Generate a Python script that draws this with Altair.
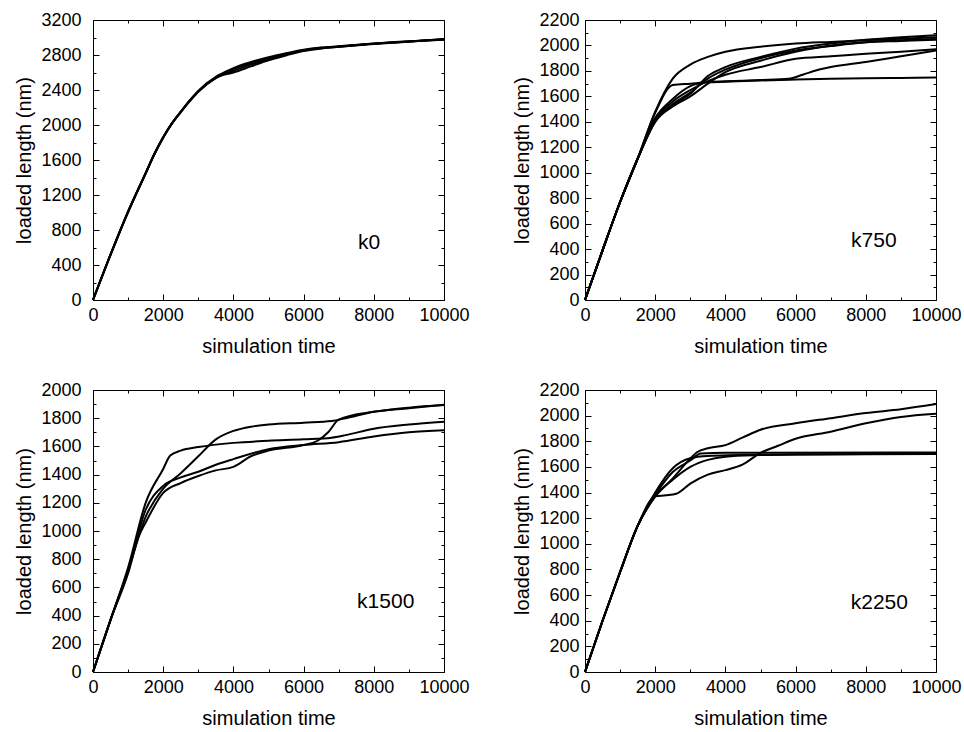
import altair as alt
import pandas as pd

FONT = "Liberation Sans"
W, H_TOP, H_BOT = 351, 280, 282

# ---------------- data: k0 ----------------
k0_t = [0, 500, 1000, 1500, 1750, 2000, 2250, 2500, 2750, 3000, 3500, 4000, 4500, 5000, 5500, 6000, 6500, 7000, 8000, 9000, 10000]
k0_r1 = [0, 520, 1010, 1450, 1670, 1860, 2020, 2150, 2275, 2385, 2545, 2650, 2720, 2775, 2820, 2860, 2885, 2900, 2930, 2955, 2980]
k0_r2 = [0, 515, 1005, 1445, 1665, 1855, 2015, 2145, 2270, 2380, 2535, 2620, 2690, 2755, 2805, 2850, 2878, 2895, 2928, 2953, 2978]
k0_r3 = [0, 518, 1008, 1448, 1668, 1858, 2018, 2150, 2278, 2390, 2550, 2640, 2705, 2765, 2812, 2855, 2882, 2898, 2932, 2957, 2975]
k0_r4 = [0, 522, 1012, 1452, 1672, 1862, 2022, 2152, 2272, 2383, 2540, 2600, 2670, 2740, 2795, 2845, 2875, 2893, 2926, 2952, 2982]

# ---------------- data: k750 ----------------
k750_t = [0, 500, 1000, 1500, 2000, 2500, 3000, 3500, 4000, 5000, 6000, 7000, 8000, 9000, 10000]
k750_r1 = [0, 390, 770, 1110, 1480, 1740, 1850, 1910, 1950, 1990, 2015, 2028, 2040, 2052, 2065]
k750_r2 = [0, 390, 770, 1110, 1470, 1690, 1700, 1710, 1715, 1725, 1732, 1738, 1742, 1745, 1748]
k750_r3_t = [0, 500, 1000, 1500, 2000, 2500, 3000, 3500, 4000, 5000, 5800, 6200, 6600, 7000, 8000, 9000, 10000]
k750_r3 = [0, 390, 770, 1110, 1430, 1580, 1680, 1712, 1718, 1728, 1738, 1770, 1805, 1830, 1870, 1915, 1960]
k750_r4 = [0, 390, 770, 1110, 1420, 1560, 1650, 1720, 1770, 1830, 1895, 1915, 1935, 1950, 1970]
k750_r5 = [0, 390, 770, 1110, 1410, 1540, 1630, 1740, 1810, 1900, 1960, 1995, 2025, 2040, 2050]
k750_r6 = [0, 390, 770, 1110, 1400, 1530, 1620, 1760, 1830, 1910, 1975, 2015, 2045, 2065, 2080]
k750_r7 = [0, 390, 770, 1110, 1400, 1520, 1600, 1700, 1790, 1880, 1950, 2000, 2025, 2035, 2045]

# ---------------- data: k1500 ----------------
k1500_a_t = [0, 500, 1000, 1500, 2000, 2200, 2500, 3000, 4000, 5000, 6000, 6800, 7200, 8000, 9000, 10000]
k1500_a = [0, 370, 740, 1200, 1440, 1535, 1570, 1595, 1625, 1640, 1650, 1662, 1680, 1725, 1755, 1775]
k1500_b_t = [0, 500, 1000, 1500, 2000, 2500, 3000, 3500, 4000, 4500, 5000, 6000, 6800, 7200, 8000, 9000, 10000]
k1500_b = [0, 370, 720, 1100, 1300, 1410, 1530, 1650, 1710, 1740, 1755, 1768, 1780, 1800, 1845, 1870, 1895]
k1500_c_t = [0, 500, 1000, 1300, 1500, 2000, 2500, 3000, 3500, 4000, 4500, 5000, 6000, 6400, 6700, 7000, 8000, 9000, 10000]
k1500_c = [0, 370, 700, 960, 1060, 1270, 1340, 1390, 1430, 1455, 1530, 1570, 1610, 1640, 1700, 1790, 1845, 1875, 1893]
k1500_d_t = [0, 500, 1000, 1500, 2000, 2500, 3000, 3500, 4000, 5000, 6000, 7000, 8000, 9000, 10000]
k1500_d = [0, 370, 720, 1150, 1320, 1380, 1420, 1470, 1510, 1580, 1610, 1630, 1670, 1700, 1715]

# ---------------- data: k2250 ----------------
k2250_a_t = [0, 500, 1000, 1500, 2000, 2500, 3000, 3200, 3500, 4000, 4500, 5000, 6000, 7000, 8000, 9000, 10000]
k2250_a = [0, 400, 780, 1140, 1370, 1510, 1665, 1716, 1745, 1770, 1830, 1890, 1940, 1980, 2020, 2050, 2090]
k2250_b_t = [0, 500, 1000, 1500, 2000, 2300, 2600, 3000, 3500, 4000, 4500, 5000, 5500, 6000, 7000, 8000, 9000, 10000]
k2250_b = [0, 400, 780, 1140, 1370, 1378, 1390, 1470, 1540, 1575, 1620, 1710, 1765, 1820, 1875, 1940, 1990, 2015]
k2250_c_t = [0, 500, 1000, 1500, 2000, 2500, 3000, 3500, 5000, 10000]
k2250_c = [0, 400, 780, 1140, 1400, 1590, 1668, 1685, 1695, 1705]
k2250_d_t = [0, 500, 1000, 1500, 2000, 2500, 3000, 3500, 4000, 5000, 6000, 10000]
k2250_d = [0, 400, 780, 1140, 1370, 1500, 1600, 1655, 1680, 1692, 1697, 1700]
k2250_e_t = [0, 500, 1000, 1500, 2000, 2500, 3000, 3300, 4000, 10000]
k2250_e = [0, 400, 780, 1140, 1380, 1560, 1650, 1705, 1710, 1712]

panel_labels = ["k0", "k750", "k1500", "k2250"]
x_labels = [0, 2000, 4000, 6000, 8000, 10000]
x_minor = [1000, 3000, 5000, 7000, 9000]


def make_df(runs):
    rows = []
    for i, (ts, ys) in enumerate(runs):
        for t, y in zip(ts, ys):
            rows.append({"run": i, "t": t, "y": y})
    return pd.DataFrame(rows)


def tick_axis(orient, values, size):
    return alt.Axis(orient=orient, values=values, tickSize={"expr": str(-size)}, ticks=True,
                    labels=False, domain=False, grid=False, title=None)


def panel(runs, ymax, ystep, yminor, label, lx, ly, lab_pad, h):
    df = make_df(runs)
    xsc = alt.Scale(domain=[0, 10000], nice=False, zero=False)
    ysc = alt.Scale(domain=[0, ymax], nice=False)
    ymaj = list(range(0, ymax + 1, ystep))
    ymin = [v for v in range(0, ymax + 1, yminor) if v % ystep != 0]
    base = alt.Chart(df)
    main = base.mark_line(color="black", strokeWidth=2, interpolate="monotone").encode(
        x=alt.X("t:Q", scale=xsc, axis=alt.Axis(values=x_labels, format="d", title="simulation time",
                                                ticks=False, tickSize=0, domain=False, grid=False,
                                                labelFlush=False, labelPadding=6, titlePadding=12)),
        y=alt.Y("y:Q", scale=ysc, axis=alt.Axis(values=ymaj, format="d", title="loaded length (nm)",
                                                ticks=False, tickSize=0, domain=False, grid=False,
                                                labelFlush=False, labelPadding=lab_pad, titlePadding=6)),
        detail="run:N",
    )
    layers = [main]
    for xo, yo, xv, yv, sz in [("bottom", "left", x_labels, ymaj, 6),
                               ("bottom", "left", x_minor, ymin, 3),
                               ("top", "right", x_labels, ymaj, 6),
                               ("top", "right", x_minor, ymin, 3)]:
        layers.append(base.mark_line(opacity=0).encode(
            x=alt.X("t:Q", scale=xsc, axis=tick_axis(xo, xv, sz)),
            y=alt.Y("y:Q", scale=ysc, axis=tick_axis(yo, yv, sz)),
            detail="run:N",
        ))
    txt = alt.Chart(pd.DataFrame({"t": [lx], "y": [ly], "s": [label]})).mark_text(
        fontSize=21, font=FONT, color="black", align="center", baseline="middle"
    ).encode(
        x=alt.X("t:Q", scale=xsc, axis=None),
        y=alt.Y("y:Q", scale=ysc, axis=None),
        text="s:N",
    )
    layers.append(txt)
    return alt.layer(*layers).resolve_axis(x="independent", y="independent").properties(
        width=W, height=h)


p0 = panel([(k0_t, k0_r1), (k0_t, k0_r2), (k0_t, k0_r3), (k0_t, k0_r4)],
           3200, 400, 200, panel_labels[0], 7863, 657, 12, H_TOP)
p1 = panel([(k750_t, k750_r1), (k750_t, k750_r2), (k750_r3_t, k750_r3), (k750_t, k750_r4),
            (k750_t, k750_r5), (k750_t, k750_r6), (k750_t, k750_r7)],
           2200, 200, 100, panel_labels[1], 8229, 460, 6, H_TOP)
p2 = panel([(k1500_a_t, k1500_a), (k1500_b_t, k1500_b), (k1500_c_t, k1500_c), (k1500_d_t, k1500_d)],
           2000, 200, 100, panel_labels[2], 8339, 500, 12, H_BOT)
p3 = panel([(k2250_a_t, k2250_a), (k2250_b_t, k2250_b), (k2250_c_t, k2250_c), (k2250_d_t, k2250_d),
            (k2250_e_t, k2250_e)],
           2200, 200, 100, panel_labels[3], 8386, 538, 6, H_BOT)

row1 = alt.hconcat(p0, p1, spacing=42)
row2 = alt.hconcat(p2, p3, spacing=42)
chart = alt.vconcat(row1, row2, spacing=23).properties(
    padding={"left": 14, "top": 10, "right": 0, "bottom": 0},
    background="white",
).configure_view(
    stroke="black", strokeWidth=1
).configure_axis(
    labelFont=FONT, labelFontSize=18, labelColor="black",
    titleFont=FONT, titleFontSize=20, titleFontWeight="normal", titleColor="black",
    tickColor="black", tickWidth=1,
)

chart.save("out.html", embed_options={"renderer": "svg", "actions": False})
